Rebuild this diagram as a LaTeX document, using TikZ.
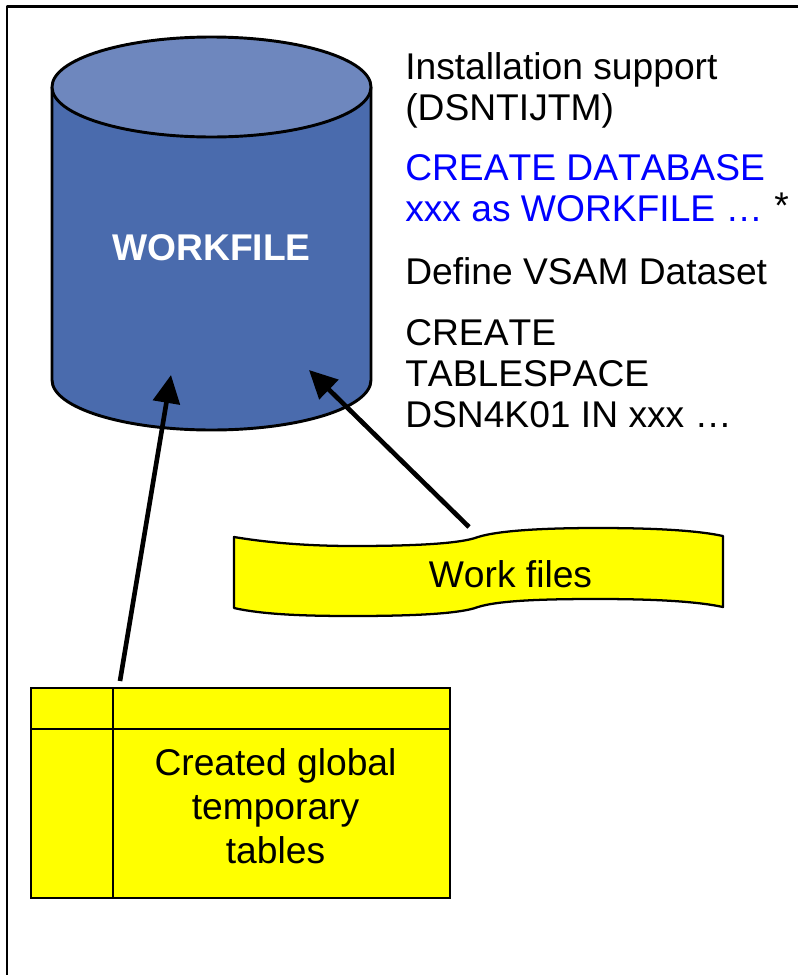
\documentclass[tikz,border=0pt]{standalone}
\usepackage{fontspec}
\usetikzlibrary{arrows.meta}
\setmainfont[Kerning=Off]{Liberation Sans}
\definecolor{cylside}{RGB}{74,107,173}
\definecolor{cyltop}{RGB}{110,135,190}
\definecolor{blueText}{RGB}{0,0,255}
\definecolor{paleYellow}{RGB}{255,255,0}
\begin{document}
\begin{tikzpicture}[x=0.75pt,y=-0.75pt,
  outline/.style={draw=black,line width=2.2pt,line join=round},
  thin outline/.style={draw=black,line width=1.7pt},
  body/.style={font=\fontsize{27.9}{30.8}\selectfont,inner sep=0pt,align=left,anchor=north west},
  centred/.style={font=\fontsize{27.9}{33}\selectfont,inner sep=0pt,align=center},
  flow/.style={draw=black,line width=3.5pt,-{Triangle[length=21pt,width=20pt]}}]
\useasboundingbox (0,0) rectangle (797,975);
\fill[white] (0,0) rectangle (797,975);
\draw[outline,line width=2pt] (7,985) -- (7,6.5) -- (800,6.5);
% cylinder
\path[fill=cylside,outline] (52,87) -- (52,380) arc[start angle=180,end angle=0,x radius=159.5,y radius=50] -- (371,87);
\path[fill=cyltop,outline] (211.5,87) ellipse[x radius=159.5,y radius=50];
\node[inner sep=0pt,text=white,font=\fontsize{27.9}{30}\selectfont\bfseries] (wf) at (211.5,248) {WORKFILE};
% right texts
\node[body] (t1) at (405,52) {Installation support\\(DSNTIJTM)};
\node[body,text=blueText] (t2) at (405,154) {CREATE DATABASE\\xxx as WORKFILE …};
\node[inner sep=0pt,font=\fontsize{27.9}{30}\selectfont,anchor=north west] (star) at (774,193) {*};
\node[body] (t3) at (405,257) {Define VSAM Dataset};
\node[body] (t4) at (405,319) {CREATE\\TABLESPACE\\DSN4K01 IN xxx …};
% work files
\path[fill=paleYellow,thin outline,line join=round] (234,537)
  .. controls (270,543) and (310,546) .. (353,546)
  .. controls (410,546) and (460,544) .. (478,537)
  .. controls (500,530) and (550,528) .. (597,528)
  .. controls (650,528) and (695,530) .. (723,536)
  -- (723,607)
  .. controls (695,601) and (650,599) .. (597,599)
  .. controls (550,599) and (500,600) .. (478,607)
  .. controls (460,614) and (410,616) .. (353,616)
  .. controls (310,616) and (265,615) .. (234,608) -- cycle;
\node[inner sep=0pt,font=\fontsize{27.9}{30}\selectfont] (wk) at (510.5,574) {Work files};
% table
\path[fill=paleYellow,thin outline] (31,688) rectangle (450,898);
\draw[thin outline] (31,729) -- (450,729) (113,688) -- (113,898);
\node[centred] (ct) at (275.5,806) {Created global\\temporary\\tables};
% arrows
\coordinate (a1s) at (120,681);
\coordinate (a1e) at (171,375);
\coordinate (a2s) at (469,527);
\coordinate (a2e) at (309,370);
\draw[flow] (a1s) -- (a1e);
\draw[flow] (a2s) -- (a2e);
\end{tikzpicture}
\end{document}
